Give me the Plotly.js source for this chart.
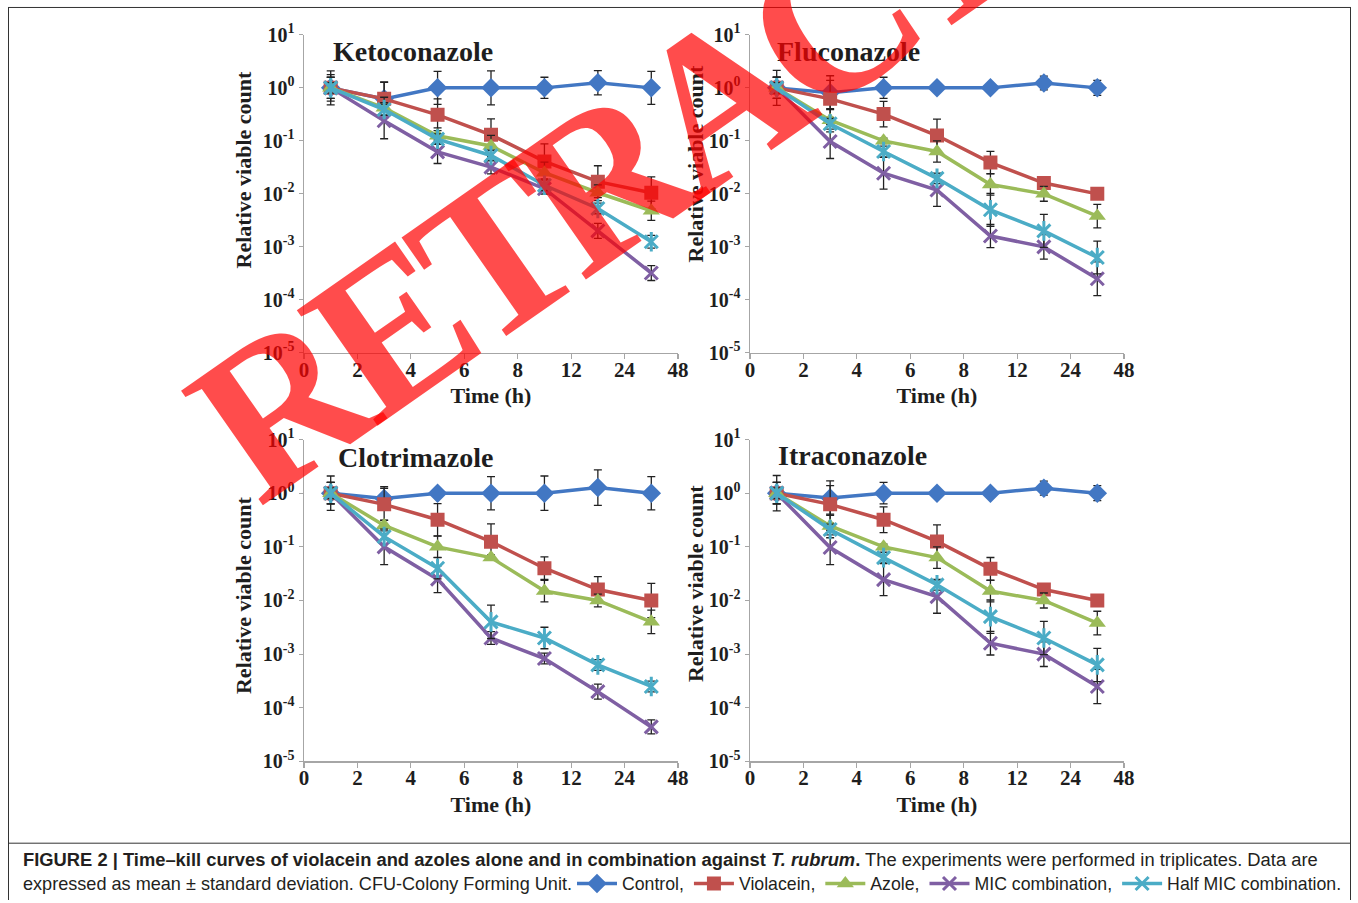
<!DOCTYPE html>
<html>
<head>
<meta charset="utf-8">
<script src="https://cdn.plot.ly/plotly-3.0.1.min.js"></script>
<style>
  html, body { margin: 0; padding: 0; background: #ffffff; }
  #chart { width: 1358px; height: 903px; }
</style>
</head>
<body>
<div id="chart"></div>
<script>
// ---------------- DATA ----------------
const timeLabels = ['0', '2', '4', '6', '8', '12', '24', '48'];
const seriesNames = ['Control', 'Violacein', 'Azole', 'MIC combination', 'Half MIC combination'];
const panelTitles = ['Ketoconazole', 'Fluconazole', 'Clotrimazole', 'Itraconazole'];
const yTickValues = [1e-5, 1e-4, 1e-3, 1e-2, 1e-1, 1e0, 1e1];
const yTickLabels = ['10<sup>-5</sup>', '10<sup>-4</sup>', '10<sup>-3</sup>', '10<sup>-2</sup>', '10<sup>-1</sup>', '10<sup>0</sup>', '10<sup>1</sup>'];

// Ketoconazole (relative viable count; error = log10 half-width of the bar)
const ketoControl     = [1, 0.62, 1, 1, 1, 1.25, 1];
const ketoControlErr  = [0.32, 0.32, 0.31, 0.32, 0.2, 0.23, 0.31];
const ketoViolacein   = [1, 0.62, 0.31, 0.13, 0.041, 0.017, 0.0105];
const ketoViolaceinErr= [0.25, 0.31, 0.3, 0.3, 0.33, 0.3, 0.3];
const ketoAzole       = [1, 0.42, 0.125, 0.08, 0.025, 0.0105, 0.0048];
const ketoAzoleErr    = [0.2, 0.2, 0.15, 0.2, 0.2, 0.15, 0.18];
const ketoMIC         = [1, 0.24, 0.062, 0.032, 0.0125, 0.002, 0.00032];
const ketoMICErr      = [0.2, 0.34, 0.22, 0.13, 0.1, 0.14, 0.14];
const ketoHalfMIC     = [1, 0.39, 0.108, 0.053, 0.0145, 0.0053, 0.00125];
const ketoHalfMICErr  = [0.1, 0.1, 0.1, 0.1, 0.1, 0.1, 0.12];

// Fluconazole
const flucoControl     = [1, 0.81, 1, 1, 1, 1.24, 1];
const flucoControlErr  = [0.33, 0.32, 0.2, 0.03, 0.03, 0.13, 0.14];
const flucoViolacein   = [1, 0.62, 0.32, 0.126, 0.039, 0.016, 0.01];
const flucoViolaceinErr= [0.2, 0.35, 0.24, 0.31, 0.21, 0.05, 0.05];
const flucoAzole       = [1, 0.245, 0.1, 0.063, 0.015, 0.01, 0.0038];
const flucoAzoleErr    = [0.2, 0.22, 0.05, 0.2, 0.2, 0.14, 0.22];
const flucoMIC         = [1, 0.097, 0.0245, 0.0118, 0.0016, 0.001, 0.00025];
const flucoMICErr      = [0.2, 0.32, 0.3, 0.31, 0.22, 0.23, 0.32];
const flucoHalfMIC     = [1, 0.21, 0.063, 0.0196, 0.005, 0.002, 0.00063];
const flucoHalfMICErr  = [0.1, 0.1, 0.1, 0.1, 0.31, 0.31, 0.31];

// Clotrimazole
const clotriControl     = [1, 0.8, 1, 1, 1, 1.27, 1];
const clotriControlErr  = [0.32, 0.22, 0.05, 0.31, 0.32, 0.33, 0.31];
const clotriViolacein   = [1, 0.62, 0.32, 0.125, 0.04, 0.016, 0.01];
const clotriViolaceinErr= [0.2, 0.3, 0.3, 0.33, 0.21, 0.24, 0.32];
const clotriAzole       = [1, 0.25, 0.1, 0.063, 0.015, 0.01, 0.004];
const clotriAzoleErr    = [0.2, 0.1, 0.2, 0.05, 0.2, 0.12, 0.22];
const clotriMIC         = [1, 0.1, 0.025, 0.002, 0.00083, 0.0002, 0.000044];
const clotriMICErr      = [0.2, 0.33, 0.25, 0.12, 0.1, 0.14, 0.13];
const clotriHalfMIC     = [1, 0.155, 0.04, 0.004, 0.002, 0.00063, 0.00025];
const clotriHalfMICErr  = [0.1, 0.05, 0.2, 0.31, 0.2, 0.1, 0.1];

// Itraconazole
const itraControl     = [1, 0.81, 1, 1, 1, 1.24, 1];
const itraControlErr  = [0.33, 0.32, 0.2, 0.03, 0.03, 0.13, 0.14];
const itraViolacein   = [1, 0.62, 0.32, 0.126, 0.039, 0.016, 0.01];
const itraViolaceinErr= [0.2, 0.35, 0.24, 0.31, 0.21, 0.05, 0.05];
const itraAzole       = [1, 0.245, 0.1, 0.063, 0.015, 0.01, 0.0038];
const itraAzoleErr    = [0.2, 0.22, 0.05, 0.2, 0.2, 0.14, 0.22];
const itraMIC         = [1, 0.097, 0.0245, 0.0118, 0.0016, 0.001, 0.00025];
const itraMICErr      = [0.2, 0.32, 0.3, 0.31, 0.22, 0.23, 0.32];
const itraHalfMIC     = [1, 0.21, 0.063, 0.0196, 0.005, 0.002, 0.00063];
const itraHalfMICErr  = [0.1, 0.1, 0.1, 0.1, 0.31, 0.31, 0.31];

// ---------------- BUILD ----------------
const panels = [
  { values: [ketoControl, ketoViolacein, ketoAzole, ketoMIC, ketoHalfMIC],
    errs:   [ketoControlErr, ketoViolaceinErr, ketoAzoleErr, ketoMICErr, ketoHalfMICErr] },
  { values: [flucoControl, flucoViolacein, flucoAzole, flucoMIC, flucoHalfMIC],
    errs:   [flucoControlErr, flucoViolaceinErr, flucoAzoleErr, flucoMICErr, flucoHalfMICErr] },
  { values: [clotriControl, clotriViolacein, clotriAzole, clotriMIC, clotriHalfMIC],
    errs:   [clotriControlErr, clotriViolaceinErr, clotriAzoleErr, clotriMICErr, clotriHalfMICErr] },
  { values: [itraControl, itraViolacein, itraAzole, itraMIC, itraHalfMIC],
    errs:   [itraControlErr, itraViolaceinErr, itraAzoleErr, itraMICErr, itraHalfMICErr] }
];

const colors = ['#4277c3', '#c0504d', '#9bbb59', '#7f5fa3', '#4bacc6'];
const markerStyles = [
  { symbol: 'diamond', size: 15 },
  { symbol: 'square', size: 14 },
  { symbol: 'triangle-up', size: 15 },
  { symbol: 'x-thin-open', size: 13, lw: 3 },
  { symbol: 'x-thin-open', size: 13, lw: 3 }
];

const W = 1358, H = 903;
const px = v => v / W;
const py = v => 1 - v / H;

const axisIds = [['x', 'y'], ['x2', 'y2'], ['x3', 'y3'], ['x4', 'y4']];
const xDomains = [[px(304), px(678)], [px(750), px(1124)], [px(304), px(678)], [px(750), px(1124)]];
const yDomains = [[py(354), py(35)], [py(354), py(35)], [py(764), py(441)], [py(764), py(441)]];

const serif = 'Liberation Serif, Times New Roman, serif';
const textCol = '#1e1e1e';
const axisCol = '#a6a6a6';

const traces = [];
panels.forEach((p, pi) => {
  const [xa, ya] = axisIds[pi];
  p.values.forEach((vals, si) => {
    const xs = vals.map((_, i) => i);
    const e = p.errs[si];
    const plus = vals.map((v, i) => v * (Math.pow(10, e[i]) - 1));
    const minus = vals.map((v, i) => v * (1 - Math.pow(10, -e[i])));
    const ms = markerStyles[si];
    const label = seriesNames[si] + (si < seriesNames.length - 1 ? ',' : '.');
    traces.push({
      type: 'scatter', mode: 'lines+markers',
      x: xs, y: vals, xaxis: xa, yaxis: ya,
      name: label, legendgroup: seriesNames[si], showlegend: pi === 0,
      line: { color: colors[si], width: 3.5 },
      marker: { symbol: ms.symbol, size: ms.size, color: colors[si],
                line: { color: colors[si], width: ms.lw || 0 } },
      error_y: { type: 'data', symmetric: false, array: plus, arrayminus: minus,
                 color: '#222222', thickness: 1.3, width: 4 },
      hoverinfo: 'skip'
    });
    if (si === 4) {
      // vertical stroke completing the star marker of the half-MIC series
      traces.push({
        type: 'scatter', mode: 'markers', x: xs, y: vals, xaxis: xa, yaxis: ya,
        showlegend: false, legendgroup: seriesNames[si], hoverinfo: 'skip',
        marker: { symbol: 'line-ns-open', size: 14, color: colors[si], line: { color: colors[si], width: 3 } }
      });
    }
  });
});

const layout = {
  width: W, height: H,
  margin: { l: 0, r: 0, t: 0, b: 0 },
  paper_bgcolor: '#ffffff', plot_bgcolor: '#ffffff',
  showlegend: true,
  legend: {
    orientation: 'h', x: px(572), xanchor: 'left', y: py(887), yanchor: 'middle',
    font: { family: 'Liberation Sans, Arial, sans-serif', size: 17.7, color: '#231f20' },
    bgcolor: 'rgba(0,0,0,0)', itemwidth: 40, traceorder: 'normal'
  },
  annotations: [],
  shapes: [
    { type: 'line', xref: 'paper', yref: 'paper', x0: px(8), x1: px(1351), y0: py(7.5), y1: py(7.5), line: { color: '#333', width: 1 } },
    { type: 'line', xref: 'paper', yref: 'paper', x0: px(8.5), x1: px(8.5), y0: py(7.5), y1: 0, line: { color: '#333', width: 1 } },
    { type: 'line', xref: 'paper', yref: 'paper', x0: px(8), x1: px(1351), y0: py(846), y1: py(846), line: { color: '#333', width: 1 } },
    { type: 'line', xref: 'paper', yref: 'paper', x0: px(1350.5), x1: px(1350.5), y0: py(7.5), y1: 0, line: { color: '#333', width: 1 } }
  ]
};

axisIds.forEach(([xa, ya], i) => {
  const xKey = 'xaxis' + (i === 0 ? '' : i + 1);
  const yKey = 'yaxis' + (i === 0 ? '' : i + 1);
  layout[xKey] = {
    domain: xDomains[i], anchor: ya,
    range: [-0.5, timeLabels.length - 1.5],
    tickmode: 'array',
    tickvals: timeLabels.map((_, k) => k - 0.5),
    ticktext: timeLabels,
    ticks: 'outside', ticklen: 5, tickcolor: axisCol, tickwidth: 1.2,
    ticklabelstandoff: -8,
    showline: true, linecolor: axisCol, linewidth: 1.5,
    showgrid: false, zeroline: false,
    tickfont: { family: serif, size: 21, color: textCol, weight: 'bold' },
    title: { text: 'Time (h)', standoff: 7, font: { family: serif, size: 22, color: textCol, weight: 'bold' } },
    fixedrange: true
  };
  layout[yKey] = {
    domain: yDomains[i], anchor: xa, type: 'log',
    range: [-5, 1],
    tickmode: 'array', tickvals: yTickValues, ticktext: yTickLabels,
    ticks: 'outside', ticklen: 4, tickcolor: axisCol, tickwidth: 1.2,
    showline: true, linecolor: axisCol, linewidth: 1.5,
    showgrid: false, zeroline: false,
    tickfont: { family: serif, size: 20, color: textCol, weight: 'bold' },
    fixedrange: true
  };
});

// panel titles
const titlePos = [[331, 52], [775, 52], [336, 459], [776, 457]];
panelTitles.forEach((t, i) => {
  layout.annotations.push({
    xref: 'paper', yref: 'paper', x: px(titlePos[i][0]), y: py(titlePos[i][1]),
    xanchor: 'left', yanchor: 'middle', showarrow: false, text: t,
    font: { family: serif, size: 28, color: textCol, weight: 'bold' }
  });
});

// y-axis titles
const yTitlePos = [[243, 171], [695, 165], [243, 598], [695, 586]];
yTitlePos.forEach(([x, y]) => {
  layout.annotations.push({
    xref: 'paper', yref: 'paper', x: px(x), y: py(y), xanchor: 'center', yanchor: 'middle',
    showarrow: false, textangle: -90, text: 'Relative viable count',
    font: { family: serif, size: 22, color: textCol, weight: 'bold' }
  });
});

// caption
const captionFont1 = { family: 'Liberation Sans, Arial, sans-serif', size: 18.35, color: '#231f20' };
const captionFont2 = { family: 'Liberation Sans, Arial, sans-serif', size: 18.1, color: '#231f20' };
layout.annotations.push({
  xref: 'paper', yref: 'paper', x: px(21), y: py(862), xanchor: 'left', yanchor: 'middle', showarrow: false,
  text: '<b>FIGURE 2 | Time–kill curves of violacein and azoles alone and in combination against <i>T. rubrum</i>.</b> The experiments were performed in triplicates. Data are',
  font: captionFont1
});
layout.annotations.push({
  xref: 'paper', yref: 'paper', x: px(21), y: py(887), xanchor: 'left', yanchor: 'middle', showarrow: false,
  text: 'expressed as mean ± standard deviation. CFU-Colony Forming Unit.',
  font: captionFont2
});

// RETRACTED watermark: letters set along a rotated baseline (tight tracking)
const wmText = 'RETRACTED';
const wmAdvance = { R: 0.722, E: 0.667, T: 0.667, A: 0.722, C: 0.722, D: 0.722 };
const wmSize = 215, wmTrack = 0.893, wmAngle = 35;
const wmStart = [282, 405];          // centre of the first letter, px
const dirX = Math.cos(wmAngle * Math.PI / 180), dirY = -Math.sin(wmAngle * Math.PI / 180);
let along = 0;
wmText.split('').forEach((ch, i) => {
  const adv = wmAdvance[ch] * wmSize * wmTrack;
  if (i > 0) along += adv / 2;
  const cx = wmStart[0] + along * dirX, cy = wmStart[1] + along * dirY;
  along += adv / 2;
  layout.annotations.push({
    xref: 'paper', yref: 'paper', x: px(cx), y: py(cy), xanchor: 'center', yanchor: 'middle',
    showarrow: false, textangle: -wmAngle, text: ch,
    font: { family: serif, size: wmSize, color: 'rgba(255,0,0,0.7)', weight: 'bold' }
  });
});

Plotly.newPlot('chart', traces, layout, { displayModeBar: false, staticPlot: true });
</script>
</body>
</html>
